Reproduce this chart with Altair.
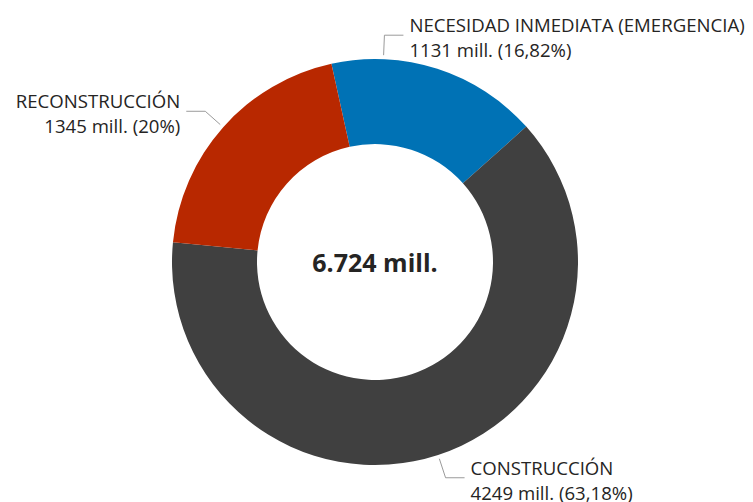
import math
import altair as alt
import pandas as pd

# ---- data ----
categories = ["NECESIDAD INMEDIATA (EMERGENCIA)", "CONSTRUCCIÓN", "RECONSTRUCCIÓN"]
values = [1131.2, 4248.6, 1344.6]          # millones
colors = ["#0072B5", "#404040", "#B82800"]

# ---- layout / style ----
W, H = 737, 494
CX, CY = 367, 254
R_OUT, R_IN = 203, 118
START = math.radians(-12.4)
R_ANCHOR, R_ELBOW, HSEG, GAP = 207, 227, 19, 6
label_shift_deg = [-15.5, 0, 0]   # nudge of first leader so text fits on page
FONT = "Open Sans"
FS = 18.6
TXT = "#252423"

total = sum(values)


def fmt_pct(p):
    s = f"{p:.2f}".replace(".", ",")
    s = s.rstrip("0").rstrip(",")
    return s + "%"


rows, lines, labels = [], [], []
cum = 0.0
for i, (c, v) in enumerate(zip(categories, values)):
    rows.append({"category": c, "value": v, "order": i})
    mid = START + 2 * math.pi * (cum + v / 2) / total + math.radians(label_shift_deg[i])
    cum += v
    s, co = math.sin(mid), math.cos(mid)
    side = 1 if s >= 0 else -1
    ax, ay = CX + R_ANCHOR * s, CY - R_ANCHOR * co
    ex, ey = CX + R_ELBOW * s, CY - R_ELBOW * co
    hx = ex + side * HSEG
    for k, (px, py) in enumerate([(ax, ay), (ex, ey), (hx, ey)]):
        lines.append({"category": c, "pt": k, "x": px, "y": py})
    labels.append({
        "category": c,
        "line1": c,
        "line2": f"{round(v)} mill. ({fmt_pct(100 * v / total)})",
        "tx": hx + side * GAP,
        "ty": ey,
        "side": "left" if side > 0 else "right",
    })

df = pd.DataFrame(rows)
df_lines = pd.DataFrame(lines)
df_labels = pd.DataFrame(labels)
df_total = pd.DataFrame({"t": [f"{round(total):,}".replace(",", ".") + " mill."]})

arc = alt.Chart(df).mark_arc(outerRadius=R_OUT, innerRadius=R_IN).encode(
    theta=alt.Theta("value:Q", stack=True,
                    scale=alt.Scale(range=[START + 2 * math.pi, START + 4 * math.pi])),
    order=alt.Order("order:Q"),
    color=alt.Color("category:N", scale=alt.Scale(domain=categories, range=colors), legend=None),
    x=alt.value(CX),
    y=alt.value(CY),
)

leaders = alt.Chart(df_lines).mark_line(color="#9a9a9a", strokeWidth=1).encode(
    x=alt.X("x:Q", scale=None),
    y=alt.Y("y:Q", scale=None),
    detail="category:N",
    order="pt:Q",
)

text_layers = []
for side in ["left", "right"]:
    base = alt.Chart(df_labels).transform_filter(alt.datum.side == side)
    for field, dy in [("line1", -3), ("line2", 22)]:
        text_layers.append(
            base.mark_text(align=side, baseline="alphabetic", dy=dy, font=FONT,
                           fontSize=FS, color=TXT).encode(
                x=alt.X("tx:Q", scale=None),
                y=alt.Y("ty:Q", scale=None),
                text=f"{field}:N",
            )
        )

center = alt.Chart(df_total).mark_text(font=FONT, fontSize=25, fontWeight="bold",
                                       color=TXT, baseline="alphabetic").encode(
    x=alt.value(CX), y=alt.value(CY + 10), text="t:N")

chart = alt.layer(arc, leaders, *text_layers, center).properties(
    width=W, height=H, padding=0, autosize="none"
).configure_view(stroke=None)

chart.save("out.html", embed_options={"renderer": "svg", "actions": False})
